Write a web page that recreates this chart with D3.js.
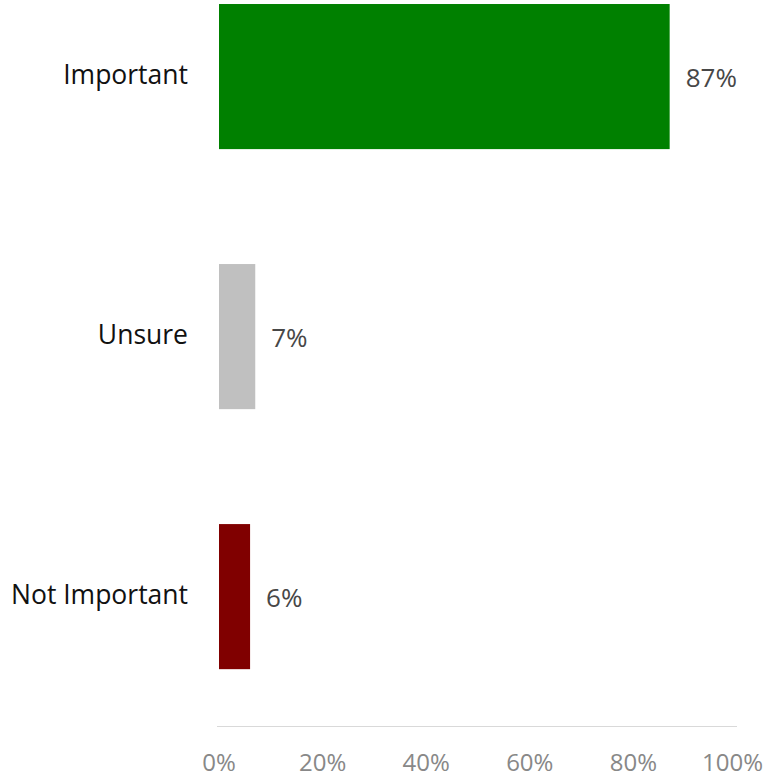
<!DOCTYPE html>
<html>
<head>
<meta charset="utf-8">
<script src="https://cdn.jsdelivr.net/npm/d3@7"></script>
<style>
  html, body { margin: 0; padding: 0; background: #fff; }
  svg { display: block; }
  text { font-family: "Open Sans", "Noto Sans", sans-serif; }
</style>
</head>
<body>
<svg id="chart" width="764" height="778"></svg>
<script>
const categories = ["Important", "Unsure", "Not Important"];
const values = [87, 7, 6];
const barColors = ["#008000", "#c0c0c0", "#800000"];
const tickValues = [0, 20, 40, 60, 80, 100];

const W = 764;
const svg = d3.select("#chart");
const x0 = 219, x1 = 737, axisY = 726;

const x = d3.scaleLinear().domain([0, 100]).range([x0, x1]);
const y = d3.scaleBand().domain(categories).range([0, axisY])
  .paddingInner(0.442).paddingOuter(0.117).align(0.066);

// axis line
svg.append("line")
  .attr("x1", x0 - 2).attr("x2", x1)
  .attr("y1", axisY + 0.5).attr("y2", axisY + 0.5)
  .attr("stroke", "#d9d9d9").attr("stroke-width", 1);

// bars
svg.selectAll("rect.bar").data(categories).join("rect")
  .attr("class", "bar")
  .attr("x", x(0))
  .attr("y", d => y(d))
  .attr("width", (d, i) => x(values[i]) - x(0))
  .attr("height", y.bandwidth())
  .attr("fill", (d, i) => barColors[i]);

// category labels
svg.selectAll("text.cat").data(categories).join("text")
  .attr("class", "cat")
  .attr("x", x0 - 31)
  .attr("y", d => y(d) + y.bandwidth() / 2 + 7)
  .attr("text-anchor", "end")
  .attr("font-size", 26.5)
  .attr("fill", "#111")
  .text(d => d);

// value labels
svg.selectAll("text.val").data(categories).join("text")
  .attr("class", "val")
  .attr("x", (d, i) => x(values[i]) + 16)
  .attr("y", d => y(d) + y.bandwidth() / 2 + 10)
  .attr("font-size", 26)
  .attr("fill", "#474747")
  .text((d, i) => values[i] + "%");

// tick labels
svg.selectAll("text.tick").data(tickValues).join("text")
  .attr("class", "tick")
  .attr("x", d => x(d))
  .attr("y", 771)
  .attr("text-anchor", "middle")
  .attr("font-size", 24)
  .attr("fill", "#888")
  .text(d => d + "%")
  .each(function () {
    const b = this.getBBox();
    if (b.x + b.width > W - 1) {
      d3.select(this).attr("x", +d3.select(this).attr("x") - (b.x + b.width - (W - 1)));
    }
  });
</script>
</body>
</html>
